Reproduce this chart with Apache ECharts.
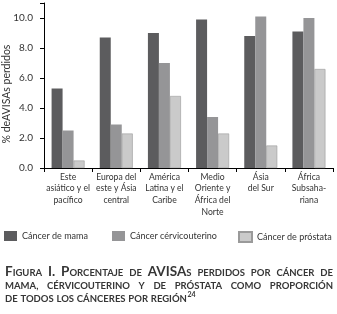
<!DOCTYPE html>
<html>
<head>
    <meta charset="utf-8">
    <title>AVISAs perdidos</title>
    <script type="text/javascript" src="https://cdn.jsdelivr.net/npm/echarts@6/dist/echarts.min.js"></script>
    <style>
        html, body { margin: 0; padding: 0; background: #fff; }
    </style>
</head>
<body>
<div id="main" style="width: 337px;height:314px;"></div>
<script type="text/javascript">

    // datos
    var regiones = ['Este\nasiático y el\npacífico', 'Europa del\neste y Ásia\ncentral', 'América\nLatina y el\nCaribe',
        'Medio\nOriente y\nÁfrica del\nNorte', 'Ásia\ndel Sur', 'África\nSubsaha-\nriana'];
    var mama = [5.3, 8.7, 9.0, 9.9, 8.8, 9.1];
    var cervicouterino = [2.5, 2.9, 7.0, 3.4, 10.1, 10.0];
    var prostata = [0.5, 2.3, 4.8, 2.3, 1.5, 6.6];
    var series_names = ['Cáncer de mama', 'Cáncer cérvicouterino', 'Cáncer de próstata'];
    var y_ticks = [0, 2, 4, 6, 8, 10];

    // titulo (mayusculas = versal grande, minusculas = versalita)
    var titulo = [
        'Figura I. Porcentaje de AVISAs perdidos por cáncer de',
        'mama, cérvicouterino y de próstata como proporción',
        'de todos los cánceres por región'
    ];
    var nota = '24';

    var FONT = 'Lato';
    var BIG = 13.5, SMALL = 9.5;
    var ctx = document.createElement('canvas').getContext('2d');
    function medir(t, size) {
        ctx.font = 'bold ' + size + 'px ' + FONT;
        return ctx.measureText(t).width;
    }
    function tramos(palabra) {
        var out = [];
        for (var i = 0; i < palabra.length; i++) {
            var c = palabra[i];
            var big = c !== c.toLowerCase() || c === '.';
            var size = big ? BIG : SMALL;
            if (out.length && out[out.length - 1].size === size) out[out.length - 1].t += c.toUpperCase();
            else out.push({t: c.toUpperCase(), size: size});
        }
        return out;
    }

    var graficos = [];
    var x0 = 5, x1 = 333;
    titulo.forEach(function (linea, i) {
        var base = 276 + i * 13;
        var palabras = linea.split(' ').map(tramos);
        var anchos = palabras.map(function (p) {
            return p.reduce(function (s, r) { return s + medir(r.t, r.size); }, 0);
        });
        var suma = anchos.reduce(function (a, b) { return a + b; }, 0);
        var ultima = i === titulo.length - 1;
        var hueco = ultima ? medir(' ', SMALL) * 1.2 : (x1 - x0 - suma) / (palabras.length - 1);
        var x = x0;
        palabras.forEach(function (p, k) {
            p.forEach(function (r) {
                graficos.push({
                    type: 'text', x: x, y: base - 0.3225 * r.size,
                    style: {text: r.t, font: 'bold ' + r.size + 'px ' + FONT, fill: '#363636', verticalAlign: 'middle'}
                });
                x += medir(r.t, r.size);
            });
            x += hueco;
        });
        if (ultima) {
            graficos.push({
                type: 'text', x: x - hueco + 0.5, y: base - 5 - 0.3225 * 7,
                style: {text: nota, font: 'bold 7px ' + FONT, fill: '#363636', verticalAlign: 'middle'}
            });
        }
    });

    // nombre del eje y
    graficos.push({
        type: 'text', x: 7, y: 94, rotation: Math.PI / 2,
        style: {text: '% deAVISAs perdidos', font: '10.5px ' + FONT, fill: '#333', align: 'center', verticalAlign: 'middle'}
    });

    var colores = ['#5c5c5e', '#959597', '#cacaca'];
    var myChart = echarts.init(document.getElementById('main'));

    var leyendaLeft = [4, 112, 238];
    var leyendas = series_names.map(function (n, i) {
        return {
            data: [n], left: leyendaLeft[i], top: 231, itemWidth: 13, itemHeight: 10, itemGap: 5,
            icon: 'rect', padding: 0,
            textStyle: {fontFamily: FONT, fontSize: 9, color: '#333'}
        };
    });

    var option = {
        animation: false,
        textStyle: {fontFamily: FONT},
        grid: {left: 44, right: 4, top: 3, bottom: 146, containLabel: false},
        legend: leyendas,
        xAxis: {
            type: 'category',
            data: regiones,
            axisLine: {lineStyle: {color: '#000', width: 1}},
            axisTick: {show: true, length: 4, lineStyle: {color: '#000'}},
            axisLabel: {fontSize: 8.6, color: '#333', lineHeight: 11.7, margin: 3, interval: 0}
        },
        yAxis: {
            type: 'value',
            min: 0, max: 11, interval: 2,
            splitLine: {show: false},
            axisLine: {show: true, lineStyle: {color: '#000', width: 1}},
            axisTick: {show: true, length: 4, lineStyle: {color: '#000'}},
            axisLabel: {
                fontSize: 10, color: '#333', margin: 11,
                formatter: function (v) { return y_ticks.indexOf(v) >= 0 ? v.toFixed(1) : ''; }
            }
        },
        series: [
            {name: series_names[0], type: 'bar', data: mama, barWidth: 11, barGap: '0%',
                itemStyle: {color: colores[0]}},
            {name: series_names[1], type: 'bar', data: cervicouterino, barWidth: 11, barGap: '0%',
                itemStyle: {color: colores[1]}},
            {name: series_names[2], type: 'bar', data: prostata, barWidth: 11, barGap: '0%',
                itemStyle: {color: colores[2], borderColor: '#9a9a9a', borderWidth: 0.6}}
        ],
        graphic: graficos
    };

    myChart.setOption(option);
</script>
</body>
</html>
